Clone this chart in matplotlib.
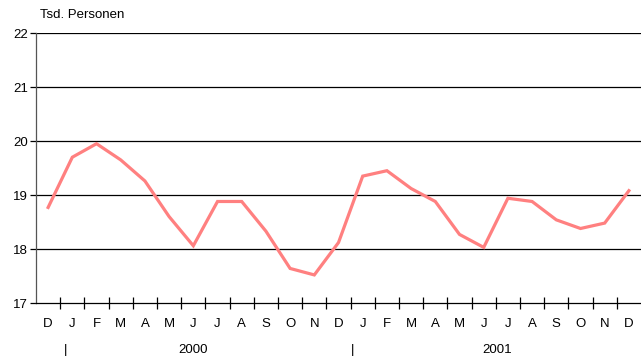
import numpy as np
import matplotlib
matplotlib.use('Agg')
import matplotlib.pyplot as plt

plt.rcParams['font.family'] = ['Liberation Sans', 'DejaVu Sans']

months = ['D', 'J', 'F', 'M', 'A', 'M', 'J', 'J', 'A', 'S', 'O', 'N',
          'D', 'J', 'F', 'M', 'A', 'M', 'J', 'J', 'A', 'S', 'O', 'N', 'D']
values = [18.77, 19.70, 19.95, 19.65, 19.26, 18.60, 18.06, 18.88, 18.88,
          18.33, 17.64, 17.52, 18.12, 19.35, 19.45, 19.12, 18.88, 18.27,
          18.03, 18.94, 18.88, 18.54, 18.38, 18.48, 19.08]
years = ['2000', '2001']
year_pos = [6.0, 18.55]
sep_pos = [0.7, 12.6]

fig = plt.figure(figsize=(6.41, 3.58), dpi=100)
ax = fig.add_axes([0.0562, 0.1536, 0.9438, 0.7542])

x = np.arange(len(values))
ax.plot(x, values, c='#ff8080', lw=2.3, solid_joinstyle='miter', zorder=3)

ax.set_xlim(-0.5, len(values) - 0.5)
ax.set_ylim(17, 22)
ax.set_yticks(range(17, 23))
for yv in range(18, 23):
    ax.axhline(yv, c='black', lw=0.9, zorder=1)

ax.set_xticks(np.arange(len(values) - 1) + 0.5)
ax.set_xticklabels([])
ax.tick_params(axis='x', direction='inout', length=8, width=0.9, color='black')
ax.tick_params(axis='y', direction='out', length=4, width=0.9, labelsize=9.5, pad=2)
for xi, m in zip(x, months):
    ax.text(xi, -0.078, m, transform=ax.get_xaxis_transform(),
            ha='center', va='center', fontsize=9.5)
for xp in sep_pos:
    ax.text(xp, -0.175, '|', transform=ax.get_xaxis_transform(),
            ha='center', va='center', fontsize=9.5)
for xp, yr in zip(year_pos, years):
    ax.text(xp, -0.175, yr, transform=ax.get_xaxis_transform(),
            ha='center', va='center', fontsize=9.5)

for s in ['top', 'right']:
    ax.spines[s].set_visible(False)
ax.spines['left'].set_color('#555555')
ax.spines['bottom'].set_color('black')
ax.spines['left'].set_linewidth(0.9)
ax.spines['bottom'].set_linewidth(0.9)

fig.text(40 / 641, 1 - 15 / 358, 'Tsd. Personen', ha='left', va='center', fontsize=9.5)

fig.savefig('out.png', dpi=100)
